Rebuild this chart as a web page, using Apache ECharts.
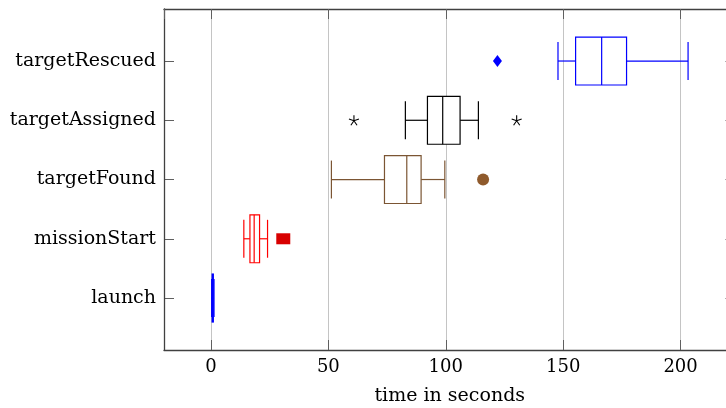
<!DOCTYPE html>
<html>
<head>
<meta charset="utf-8">
<script src="https://cdn.jsdelivr.net/npm/echarts@6/dist/echarts.min.js"></script>
<style>
  html, body { margin: 0; padding: 0; background: #fff; }
  #chart { width: 726px; height: 408px; }
</style>
</head>
<body>
<div id="chart"></div>
<script>
// ---- data ----
const categories = ['launch', 'missionStart', 'targetFound', 'targetAssigned', 'targetRescued'];
const lowerWhisker  = [0.3, 14.0, 51.3, 82.8, 147.8];
const lowerQuartile = [0.5, 16.6, 73.9, 92.2, 155.3];
const median        = [0.8, 18.4, 83.4, 98.7, 166.4];
const upperQuartile = [1.0, 20.7, 89.5, 106.1, 177.0];
const upperWhisker  = [1.3, 24.1, 99.6, 113.9, 203.2];
const outliers      = [[], [30.8], [115.9], [60.9, 130.2], [122.0]];
const xTickLabels   = [0, 50, 100, 150, 200];
const xMin = -20, xMax = 223.4;
const axisTitle = 'time in seconds';

// ---- styles ----
const boxColors = ['#0000ff', '#ff0000', '#7b5533', '#000000', '#0000ff'];
const starPath = 'path://M0,0L0,-5M0,0L4.76,-1.55M0,0L2.94,4.05M0,0L-2.94,4.05M0,0L-4.76,-1.55';
const outlierStyles = [
  null,
  { symbol: 'rect', symbolSize: [14, 11], itemStyle: { color: '#d80000', opacity: 1 } },
  { symbol: 'circle', symbolSize: 12, itemStyle: { color: '#8f5a2c', opacity: 1 } },
  { symbol: starPath, symbolSize: 10, itemStyle: { color: 'transparent', borderColor: '#000', borderWidth: 1.1, opacity: 1 } },
  { symbol: 'diamond', symbolSize: [9, 12], itemStyle: { color: '#0000ff', opacity: 1 } }
];
const FONT = 'DejaVu Serif';
const FRAME = { show: true, onZero: false, lineStyle: { color: '#404040', width: 1.3 } };

const chart = echarts.init(document.getElementById('chart'), null, { renderer: 'canvas' });

const boxData = categories.map((c, i) => [i, lowerWhisker[i], lowerQuartile[i], median[i], upperQuartile[i], upperWhisker[i]]);

function renderBox(params, api) {
  const ci = api.value(0);
  const band = api.size([0, 1])[1];
  const bh = band * 0.81, ch = band * 0.64;
  const pLo = api.coord([api.value(1), ci]);
  const pQ1 = api.coord([api.value(2), ci]);
  const pMd = api.coord([api.value(3), ci]);
  const pQ3 = api.coord([api.value(4), ci]);
  const pHi = api.coord([api.value(5), ci]);
  const y = pMd[1];
  const col = boxColors[params.dataIndex];
  const st = { stroke: col, lineWidth: 1.2, fill: null };
  return {
    type: 'group',
    children: [
      { type: 'line', shape: { x1: pLo[0], y1: y, x2: pQ1[0], y2: y }, style: st },
      { type: 'line', shape: { x1: pQ3[0], y1: y, x2: pHi[0], y2: y }, style: st },
      { type: 'line', shape: { x1: pLo[0], y1: y - ch / 2, x2: pLo[0], y2: y + ch / 2 }, style: st },
      { type: 'line', shape: { x1: pHi[0], y1: y - ch / 2, x2: pHi[0], y2: y + ch / 2 }, style: st },
      { type: 'rect', shape: { x: pQ1[0], y: y - bh / 2, width: pQ3[0] - pQ1[0], height: bh }, style: { stroke: col, lineWidth: 1.2, fill: '#fff' } },
      { type: 'line', shape: { x1: pMd[0], y1: y - bh / 2, x2: pMd[0], y2: y + bh / 2 }, style: st }
    ]
  };
}

const outlierSeries = [];
categories.forEach((c, i) => {
  if (!outliers[i].length) return;
  const s = outlierStyles[i];
  outlierSeries.push(Object.assign({
    type: 'scatter',
    xAxisIndex: 1,
    yAxisIndex: 1,
    z: 5,
    data: outliers[i].map(v => [v, i])
  }, s));
});

const option = {
  animation: false,
  backgroundColor: '#fff',
  grid: [
    { left: 164, top: 9, width: 571.5, height: 341, outerBoundsMode: 'none', containLabel: false },
    { left: 164, top: 31.4, width: 571.5, height: 296.25, outerBoundsMode: 'none', containLabel: false }
  ],
  xAxis: [
    {
      gridIndex: 0, type: 'value', position: 'bottom', min: xMin, max: xMax, z: 1,
      axisLine: FRAME,
      axisTick: { show: true, inside: true, length: 10, lineStyle: { color: '#606060' } },
      splitLine: { show: true, lineStyle: { color: '#c4c4c4', width: 1 } },
      axisLabel: {
        margin: 8, color: '#000', fontFamily: FONT, fontSize: 18,
        formatter: v => xTickLabels.indexOf(v) >= 0 ? String(v) : ''
      },
      name: axisTitle, nameLocation: 'middle', nameGap: 37,
      nameTextStyle: { color: '#000', fontFamily: FONT, fontSize: 19 }
    },
    {
      gridIndex: 1, type: 'value', min: xMin, max: xMax, show: false
    },
    {
      gridIndex: 0, type: 'value', position: 'top', min: xMin, max: xMax, z: 6,
      axisLine: FRAME,
      axisTick: { show: true, inside: true, length: 10, lineStyle: { color: '#606060' } },
      splitLine: { show: false },
      axisLabel: { show: false }
    }
  ],
  yAxis: [
    {
      gridIndex: 0, type: 'value', position: 'left', min: 0, max: 1, z: 6,
      axisLine: FRAME,
      axisTick: { show: false }, axisLabel: { show: false }, splitLine: { show: false }
    },
    {
      gridIndex: 1, type: 'category', position: 'left', data: categories,
      axisLine: { show: false, onZero: false },
      axisTick: { show: true, inside: true, alignWithLabel: true, length: 10, lineStyle: { color: '#606060' } },
      axisLabel: { margin: 8, color: '#000', fontFamily: FONT, fontSize: 19 },
      splitLine: { show: false }
    },
    {
      gridIndex: 1, type: 'category', position: 'right', data: categories,
      axisLine: { show: false, onZero: false },
      axisTick: { show: true, inside: true, alignWithLabel: true, length: 10, lineStyle: { color: '#606060' } },
      axisLabel: { show: false },
      splitLine: { show: false }
    },
    {
      gridIndex: 0, type: 'value', position: 'right', min: 0, max: 1, z: 6,
      axisLine: FRAME,
      axisTick: { show: false }, axisLabel: { show: false }, splitLine: { show: false }
    }
  ],
  series: [
    {
      type: 'custom',
      xAxisIndex: 1,
      yAxisIndex: 1,
      z: 4,
      renderItem: renderBox,
      encode: { x: [1, 2, 3, 4, 5], y: 0 },
      data: boxData
    }
  ].concat(outlierSeries)
};

chart.setOption(option);
</script>
</body>
</html>
